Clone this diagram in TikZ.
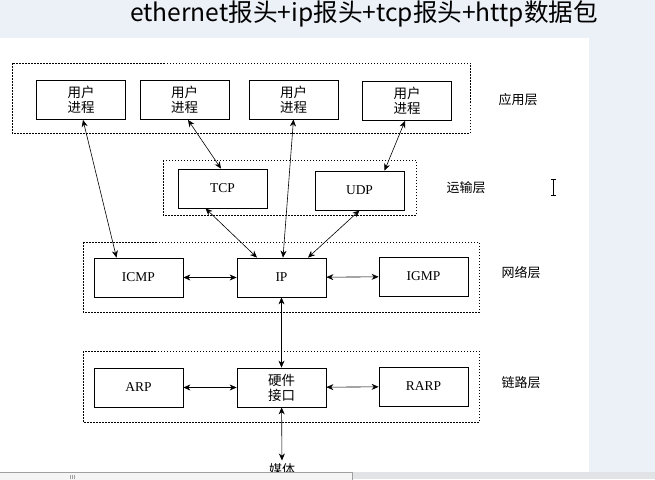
\documentclass[tikz,border=0pt]{standalone}
\usepackage{fontspec}
\setmainfont{Liberation Serif}
\newfontfamily\cjk{Noto Sans CJK SC}
\usetikzlibrary{arrows.meta,calc}
\definecolor{pagebg}{RGB}{236,240,247}
\definecolor{barbg}{RGB}{226,227,230}
\definecolor{barframe}{RGB}{160,160,160}
\tikzset{
  proto box/.style={draw=black, fill=white, line width=0.8pt,
        minimum width=89pt, minimum height=39pt, inner sep=0pt,
        font=\fontsize{13.5}{15}\selectfont},
  proc box/.style={proto box, align=center,
        font=\cjk\fontsize{13.5}{15}\selectfont},
  layer frame/.style={draw=black, line width=0.8pt,
        dash pattern=on 1.5pt off 1.5pt},
  layer name/.style={font=\cjk\fontsize{13}{15}\selectfont},
  link/.style={<->, line width=0.6pt},
  >={Stealth[length=7pt,width=6pt]}
}
\def\Layer#1#2#3#4#5{%
  \draw[layer frame] #1 rectangle #2;
  \node[layer name] (#3) at #4 {#5};
}

\begin{document}
\begin{tikzpicture}[x=1pt, y=-1pt]
\useasboundingbox (0,0) rectangle (655,479);
% page
\fill[pagebg] (0,0) rectangle (655,479);
\fill[white] (0,38) rectangle (589,472);
\node[font=\cjk\fontsize{24.6}{28}\selectfont] (Title) at (364,14)
  {ethernet报头+ip报头+tcp报头+http数据包};

% layers
\Layer{(12,63)}{(470,133)}{AppName}{(518,100)}{应用层}
\Layer{(163,160)}{(416,215)}{TransName}{(466,188)}{运输层}
\Layer{(83,242)}{(479,312)}{NetName}{(521,273)}{网络层}
\Layer{(83,351)}{(479,422)}{LinkName}{(521,383)}{链路层}

% boxes
\node[proc box] (App1) at (81,100) {用户\\进程};
\node[proc box] (App2) at (184.5,100) {用户\\进程};
\node[proc box] (App3) at (293.5,99.5) {用户\\进程};
\node[proc box] (App4) at (407,101) {用户\\进程};
\node[proto box] (TCP) at (222.5,188.5) {TCP};
\node[proto box] (UDP) at (359.5,190.5) {UDP};
\node[proto box] (ICMP) at (138.5,277.5) {ICMP};
\node[proto box] (IP) at (281.5,277.5) {IP};
\node[proto box] (IGMP) at (423.5,276.5) {IGMP};
\node[proto box] (ARP) at (138.5,387.5) {ARP};
\node[proc box] (HW) at (281.5,387.5) {硬件\\接口};
\node[proto box] (RARP) at (423.5,386.5) {RARP};
\node[layer name] (Media) at (282,470) {媒体};

% links
\draw[link] ([xshift=2pt]App1.south) -- ([xshift=-22pt]ICMP.north);
\draw[link] ([xshift=3.5pt]App2.south) -- ([xshift=-1.5pt]TCP.north);
\draw[link] (App3.south) -- ([xshift=1.5pt]IP.north);
\draw[link] ([xshift=-2pt]App4.south) -- ([xshift=25pt]UDP.north);
\draw[link] ([xshift=-17pt]TCP.south) -- ([xshift=-24.5pt]IP.north);
\draw[link] (UDP.south) -- ([xshift=26.5pt]IP.north);
\draw[link] (ICMP) -- (IP);
\draw[link] (IP) -- (IGMP);
\draw[link] (IP) -- (HW);
\draw[link] (ARP) -- (HW);
\draw[link] (HW) -- (RARP);
\draw[link] (HW) -- (Media);

% cursor
\draw[line width=0.6pt] (553,180) -- (553,195)
  (550.5,179.5) -- (555.5,179.5) (550.5,195.5) -- (555.5,195.5);

% bottom bar
\fill[barbg] (0,472) rectangle (655,479);
\draw[barframe, fill=gray!8] (-1,472.5) rectangle (352,480);
\foreach \x in {70,72,74}
  \draw[barframe] (\x,475) -- (\x,479);
\end{tikzpicture}
\end{document}
